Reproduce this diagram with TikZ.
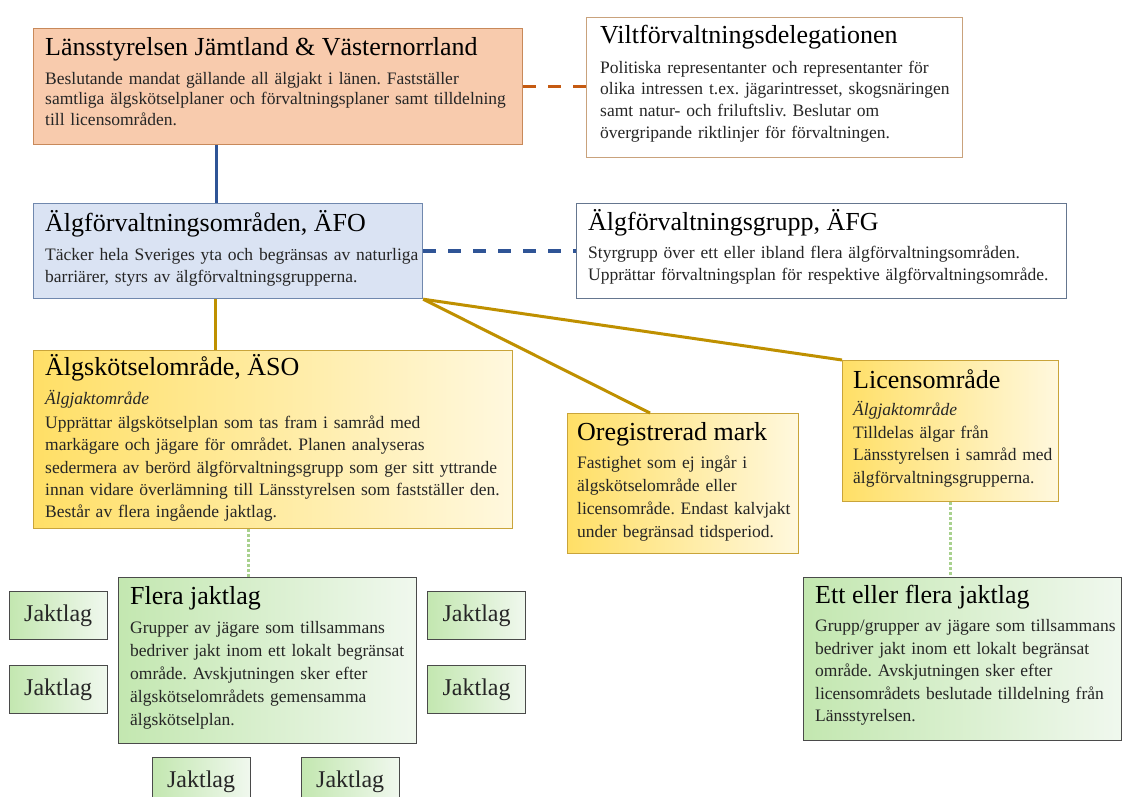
\documentclass[tikz,border=0pt]{standalone}
\usepackage{fontspec}
\setmainfont{Liberation Serif}
\usetikzlibrary{calc}
\frenchspacing
\definecolor{orfill}{HTML}{F8CBAD}
\definecolor{ordraw}{HTML}{C8895A}
\definecolor{viltdraw}{HTML}{C9A27C}
\definecolor{bluefill}{HTML}{DAE3F3}
\definecolor{bluedraw}{HTML}{7088AE}
\definecolor{afgdraw}{HTML}{65768F}
\definecolor{yelA}{HTML}{FFDF66}
\definecolor{yelB}{HTML}{FFF8DE}
\definecolor{yeldraw}{HTML}{C9A43A}
\definecolor{grnA}{HTML}{C3E7B0}
\definecolor{grnB}{HTML}{F0F8EE}
\definecolor{grndraw}{HTML}{4A4A4A}
\definecolor{lineblue}{HTML}{2F5496}
\definecolor{lineorange}{HTML}{C55A11}
\definecolor{linegold}{HTML}{BF9000}
\definecolor{linegreen}{HTML}{A9D18E}
\definecolor{bodygray}{HTML}{262626}
\begin{document}
\frenchspacing
\begin{tikzpicture}[x=1pt,y=-1pt,
  box/.style={rectangle, inner sep=0pt, anchor=north west, line width=1.2pt},
  lansbox/.style={box, fill=orfill, draw=ordraw},
  viltbox/.style={box, fill=white, draw=viltdraw},
  afobox/.style={box, fill=bluefill, draw=bluedraw},
  afgbox/.style={box, fill=white, draw=afgdraw},
  yelbox/.style={box, left color=yelA, right color=yelB, draw=yeldraw},
  grnbox/.style={box, left color=grnA, right color=grnB, draw=grndraw},
  jlbox/.style={rectangle, inner sep=0pt, anchor=north west, line width=1.2pt,
    left color=grnA, right color=grnB, draw=grndraw, text=bodygray,
    minimum width=98pt, minimum height=48pt, font=\fontsize{24}{28}\selectfont},
  ttl/.style={anchor=base west, inner sep=0pt, text=black, font=\fontsize{26}{30}\selectfont},
  bodytxt/.style={anchor=base west, inner sep=0pt, text width=600pt, align=left,
    text=bodygray, font=\fontsize{17.5}{#1}\selectfont\frenchspacing},
  itl/.style={anchor=base west, inner sep=0pt, text=bodygray, font=\fontsize{17.5}{20}\selectfont\itshape},
  blueline/.style={draw=lineblue, line width=3pt},
  goldline/.style={draw=linegold, line width=3pt},
  orangedash/.style={draw=lineorange, line width=3.5pt, dash pattern=on 13pt off 12pt},
  bluedash/.style={draw=lineblue, line width=3.5pt, dash pattern=on 13pt off 12pt},
  greendots/.style={draw=linegreen, line width=3pt, dash pattern=on 3pt off 2pt},
]
\useasboundingbox (0,0) rectangle (1122,796);
\clip (0,0) rectangle (1122,796);

% boxes
\node[lansbox, minimum width=489pt, minimum height=116pt] (lans) at (33,28) {};
\node[viltbox, minimum width=376pt, minimum height=140pt] (vilt) at (586,17) {};
\node[afobox, minimum width=389pt, minimum height=95pt] (afo) at (33,203) {};
\node[afgbox, minimum width=490pt, minimum height=95pt] (afg) at (576,203) {};
\node[yelbox, minimum width=479pt, minimum height=178pt] (aso) at (33,350) {};
\node[yelbox, minimum width=231pt, minimum height=140pt] (oreg) at (567,413) {};
\node[yelbox, minimum width=216pt, minimum height=141pt] (lic) at (842,360) {};
\node[grnbox, minimum width=298pt, minimum height=166pt] (flera) at (118,577) {};
\node[grnbox, minimum width=318pt, minimum height=163pt] (ett) at (803,577) {};

\node[jlbox] (jl1) at (8.6,590.7) {Jaktlag};
\node[jlbox] (jl2) at (8.6,664.7) {Jaktlag};
\node[jlbox] (jl3) at (427,590.7) {Jaktlag};
\node[jlbox] (jl4) at (427,664.7) {Jaktlag};
\node[jlbox] (jl5) at (151.5,757) {Jaktlag};
\node[jlbox] (jl6) at (300.6,757) {Jaktlag};

% texts
\node[ttl] (lansT) at (45,55) {Länsstyrelsen Jämtland \& Västernorrland};
\node[bodytxt=20.5pt] (lansB) at (45,84.3) {Beslutande mandat gällande all älgjakt i länen. Fastställer\\
samtliga älgskötselplaner och förvaltningsplaner samt tilldelning\\
till licensområden.};

\node[ttl] (viltT) at (600,43) {Viltförvaltningsdelegationen};
\node[bodytxt=21.7pt] (viltB) at (600,73) {Politiska representanter och representanter för\\
olika intressen t.ex. jägarintresset, skogsnäringen\\
samt natur- och friluftsliv. Beslutar om\\
övergripande riktlinjer för förvaltningen.};

\node[ttl] (afoT) at (45,231) {Älgförvaltningsområden, ÄFO};
\node[bodytxt=22.5pt] (afoB) at (45,260) {Täcker hela Sveriges yta och begränsas av naturliga\\
barriärer, styrs av älgförvaltningsgrupperna.};

\node[ttl] (afgT) at (588,230) {Älgförvaltningsgrupp, ÄFG};
\node[bodytxt=22pt] (afgB) at (588,258.5) {Styrgrupp över ett eller ibland flera älgförvaltningsområden.\\
Upprättar förvaltningsplan för respektive älgförvaltningsområde.};

\node[ttl] (asoT) at (45,375.5) {Älgskötselområde, ÄSO};
\node[itl] (asoI) at (45,404) {Älgjaktområde};
\node[bodytxt=22.3pt] (asoB) at (45,428.6) {Upprättar älgskötselplan som tas fram i samråd med\\
markägare och jägare för området. Planen analyseras\\
sedermera av berörd älgförvaltningsgrupp som ger sitt yttrande\\
innan vidare överlämning till Länsstyrelsen som fastställer den.\\
Består av flera ingående jaktlag.};

\node[ttl] (oregT) at (577,440) {Oregistrerad mark};
\node[bodytxt=23.3pt] (oregB) at (577,468) {Fastighet som ej ingår i\\
älgskötselområde eller\\
licensområde. Endast kalvjakt\\
under begränsad tidsperiod.};

\node[ttl] (licT) at (853,388) {Licensområde};
\node[itl] (licI) at (853,415) {Älgjaktområde};
\node[bodytxt=22.5pt] (licB) at (853,438) {Tilldelas älgar från\\
Länsstyrelsen i samråd med\\
älgförvaltningsgrupperna.};

\node[ttl] (fleraT) at (130,604) {Flera jaktlag};
\node[bodytxt=23pt] (fleraB) at (130,633) {Grupper av jägare som tillsammans\\
bedriver jakt inom ett lokalt begränsat\\
område. Avskjutningen sker efter\\
älgskötselområdets gemensamma\\
älgskötselplan.};

\node[ttl] (ettT) at (815,603) {Ett eller flera jaktlag};
\node[bodytxt=22.5pt] (ettB) at (815,631.7) {Grupp/grupper av jägare som tillsammans\\
bedriver jakt inom ett lokalt begränsat\\
område. Avskjutningen sker efter\\
licensområdets beslutade tilldelning från\\
Länsstyrelsen.};

% connectors
\draw[blueline] ([xshift=183pt]lans.south west) -- ([xshift=183pt]afo.north west);
\draw[orangedash] (lans.east) -- (lans.east -| vilt.west);
\draw[bluedash] (afo.east) -- (afo.east -| afg.west);
\draw[goldline] ([xshift=182pt]afo.south west) -- ([xshift=182pt]aso.north west);
\draw[goldline] (afo.south east) -- ([xshift=83pt]oreg.north west);
\draw[goldline] (afo.south east) -- (lic.north west);
\coordinate (asod) at ([xshift=215pt]aso.south west);
\draw[greendots] (asod) -- (asod |- flera.north);
\draw[greendots] (lic.south) -- (lic.south |- ett.north);
\end{tikzpicture}
\end{document}
